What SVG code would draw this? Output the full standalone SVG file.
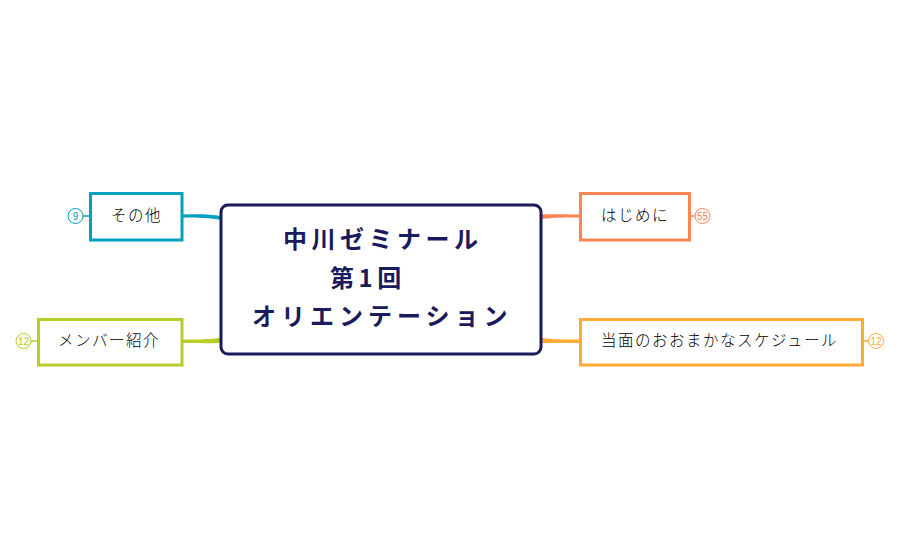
<svg xmlns="http://www.w3.org/2000/svg" width="900" height="557" viewBox="0 0 900 557">
<style>
text{font-family:"Noto Sans CJK JP","Noto Sans CJK SC",sans-serif}
.t{font-size:24px;font-weight:700;fill:#1b1a5c}
.n{font-size:15.500px;font-weight:300;fill:#000;letter-spacing:1.500px}
.c{font-family:"Liberation Sans",sans-serif;font-size:10px;text-anchor:middle}
.b{fill:#fff;stroke-width:3}
.o{fill:#fff;stroke-width:1}
</style>
<rect width="900" height="557" fill="#fff"/>
<g id="connectors">
<path style="fill:#00a0c0" d="M183 214.500C198 214 210 214 221 216L221 220C210 218 198 217.500 183 217.500Z"/>
<path style="fill:#b8cc2a" d="M183 339.500C198 339.500 210 339.500 221 337.500L221 343C210 343.500 198 343 183 343Z"/>
<path style="fill:#ff8455" d="M580 214.500C565 214.500 553 214 542 214.500L542 219C553 217.500 565 217.500 580 217.500Z"/>
<path style="fill:#ffab36" d="M580 339.500C565 339.500 553 339.500 542 338L542 343C553 343 565 343 580 343Z"/>
<path d="M83 216H90" stroke="#00a0c0" stroke-width="1.500" fill="none"/>
<path d="M31 341H38" stroke="#b8cc2a" stroke-width="1.500" fill="none"/>
<path d="M690 216H695" stroke="#ff8455" stroke-width="1.500" fill="none"/>
<path d="M863 341H868" stroke="#ffab36" stroke-width="1.500" fill="none"/>
</g>
<g id="center">
<rect x="221" y="205" width="320" height="149" rx="7" fill="#fff" stroke="#1b1a5c" stroke-width="3"/>
<text class="t" x="283" y="248" style="letter-spacing:4.500px">中川ゼミナール</text>
<text class="t" x="330" y="287" style="letter-spacing:4.500px">第1回</text>
<text class="t" x="252" y="325" style="letter-spacing:5px">オリエンテーション</text>
</g>
<g id="sonota">
<rect class="b" x="90.500" y="193.500" width="91.500" height="46.500" stroke="#00a0c0"/>
<text class="n" x="111" y="221">その他</text>
<circle class="o" cx="75.500" cy="216" r="7.500" stroke="#00a0c0"/>
<text class="c" x="75.500" y="219.500" fill="#00a0c0">9</text>
</g>
<g id="member">
<rect class="b" x="38.500" y="319.500" width="143.500" height="45.500" stroke="#b8cc2a"/>
<text class="n" x="58" y="346">メンバー紹介</text>
<circle class="o" cx="23.500" cy="341" r="7.500" stroke="#b8cc2a"/>
<text class="c" x="23.500" y="344.500" fill="#b8cc2a">12</text>
</g>
<g id="hajimeni">
<rect class="b" x="580.500" y="193.500" width="109" height="46.500" stroke="#ff8455"/>
<text class="n" x="601" y="221">はじめに</text>
<circle class="o" cx="702.500" cy="216" r="7.500" stroke="#ff8455"/>
<text class="c" x="702.500" y="219.500" fill="#ff8455">55</text>
</g>
<g id="schedule">
<rect class="b" x="580.500" y="319.500" width="282" height="45.500" stroke="#ffab36"/>
<text class="n" x="601" y="346">当面のおおまかなスケジュール</text>
<circle class="o" cx="876" cy="341" r="7.500" stroke="#ffab36"/>
<text class="c" x="876" y="344.500" fill="#ffab36">12</text>
</g>
</svg>
